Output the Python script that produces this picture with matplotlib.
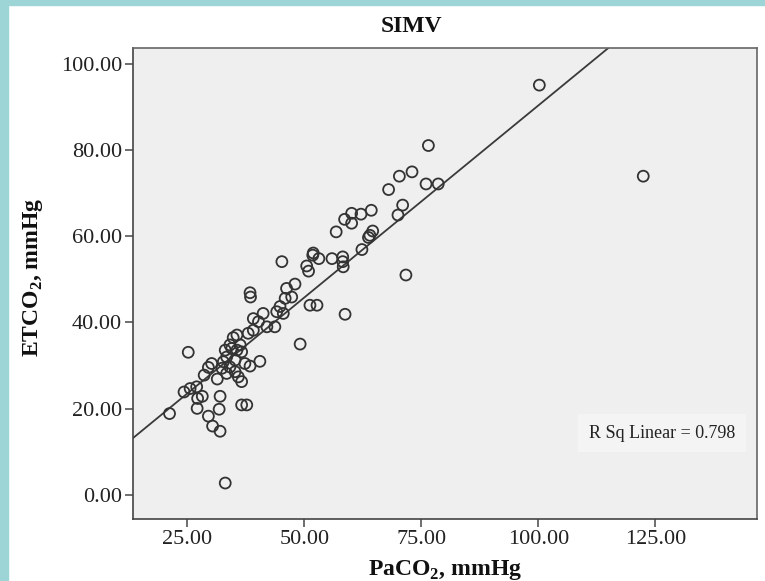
import matplotlib
matplotlib.use("Agg")
import matplotlib.pyplot as plt
import numpy as np
from matplotlib.patches import Rectangle

# ---- data ----
paco2 = [21.2, 24.3, 25.6, 27.0, 27.2, 28.2, 32.0, 31.8, 27.1, 29.5, 30.4, 32.0,
         36.6, 37.7, 33.1, 25.2, 30.2, 29.5, 28.6, 31.4, 49.1,
         33.1, 34.5, 35.6, 36.6, 33.4, 32.7, 35.2, 34.1, 32.4, 35.2, 33.4, 35.9, 36.6,
         37.3, 38.4, 40.5, 35.6, 34.8, 34.1, 36.3, 38.0, 39.1, 39.1, 40.2, 41.2,
         42.0, 43.7, 44.1, 44.8, 45.5, 38.4, 38.5, 45.9, 47.3, 46.2, 48.0,
         51.2, 52.7, 58.7, 45.2, 50.5, 50.9, 51.9, 51.8, 53.1, 55.9, 58.2, 58.2, 58.3,
         62.3, 63.7, 64.0, 64.6, 56.8, 58.6, 60.1, 60.1, 62.1, 64.3, 70.0, 71.0,
         68.0, 70.3, 73.0, 76.0, 78.6, 76.5, 71.7, 100.2, 122.4]
etco2 = [18.9, 23.9, 24.7, 25.1, 22.4, 22.9, 22.9, 19.9, 20.1, 18.3, 16.0, 14.8,
         20.9, 20.9, 2.8, 33.1, 30.5, 29.6, 27.8, 26.9, 35.0,
         33.6, 34.0, 33.6, 33.2, 32.0, 30.9, 31.3, 29.7, 29.4, 28.6, 28.2, 27.4, 26.3,
         30.5, 29.9, 31.0, 37.1, 36.5, 34.8, 34.8, 37.5, 38.2, 40.9, 40.2, 42.1,
         39.0, 39.0, 42.5, 43.7, 42.1, 46.9, 45.9, 45.6, 45.9, 47.9, 48.9,
         44.0, 44.0, 41.9, 54.1, 53.1, 51.9, 56.1, 55.6, 54.8, 54.8, 55.2, 54.1, 52.9,
         56.9, 59.7, 60.2, 61.2, 61.0, 63.9, 65.3, 63.0, 65.1, 66.0, 64.9, 67.2,
         70.8, 73.9, 74.9, 72.1, 72.1, 81.0, 51.0, 95.0, 73.9]

fit_intercept = 1.3
fit_slope = 0.89
r_sq = 0.798

x_ticks = [25, 50, 75, 100, 125]
y_ticks = [0, 20, 40, 60, 80, 100]

plt.rcParams['font.family'] = ['Liberation Serif', 'DejaVu Serif']
plt.rcParams['mathtext.fontset'] = 'custom'
plt.rcParams['mathtext.rm'] = 'Liberation Serif'
plt.rcParams['mathtext.bf'] = 'Liberation Serif:bold'

fig = plt.figure(figsize=(7.65, 5.81), dpi=100)
fig.patch.set_facecolor('white')

# teal frame strips
teal = '#9dd5d6'
fig.patches.append(Rectangle((0, 0), 8/765, 1, transform=fig.transFigure, color=teal, zorder=0))
fig.patches.append(Rectangle((0, 1 - 5/581), 1, 5/581, transform=fig.transFigure, color=teal, zorder=0))

ax = fig.add_axes([133.3/765, 1 - 519.3/581, (757 - 133.3)/765, (519.3 - 48)/581])
ax.set_facecolor('#efefef')

xlim = (13.46, 146.7)
ylim = (-5.6, 103.6)
ax.set_xlim(*xlim)
ax.set_ylim(*ylim)

ax.scatter(paco2, etco2, s=62, facecolors='none', edgecolors='#333333', linewidths=1.3, zorder=3)

xl = np.array(xlim)
ax.plot(xl, fit_intercept + fit_slope * xl, color='#3a3a3a', lw=1.3, zorder=2)

ax.set_xticks(x_ticks)
ax.set_yticks(y_ticks)
ax.set_xticklabels([f"{v:.2f}" for v in x_ticks], fontsize=16, color='#222222')
ax.set_yticklabels([f"{v:.2f}" for v in y_ticks], fontsize=16, color='#222222')
ax.tick_params(direction='out', length=6, width=1.2, color='#555555', pad=2)

for sp in ax.spines.values():
    sp.set_color('#666666')
    sp.set_linewidth(1.2)
ax.spines['left'].set_color('#444444')
ax.spines['bottom'].set_color('#444444')

fig.text(445/765, 1 - 570/581, r'PaCO$_\mathbf{2}$, mmHg', ha='center', va='center',
         fontsize=17, fontweight='bold', color='#111111')
fig.text(33/765, 1 - 277/581, r'ETCO$_\mathbf{2}$, mmHg', ha='center', va='center',
         rotation=90, fontsize=17, fontweight='bold', color='#111111')
fig.text(411/765, 1 - 27/581, 'SIMV', ha='center', va='center', fontsize=17,
         fontweight='bold', color='#111111')

ax.text(0.848, 0.183, f'R Sq Linear = {r_sq}', transform=ax.transAxes, ha='center', va='center',
        fontsize=13, color='#222222',
        bbox=dict(boxstyle='square,pad=0.6', facecolor='#f4f4f4', edgecolor='none'))

fig.savefig('out.png', dpi=100)
